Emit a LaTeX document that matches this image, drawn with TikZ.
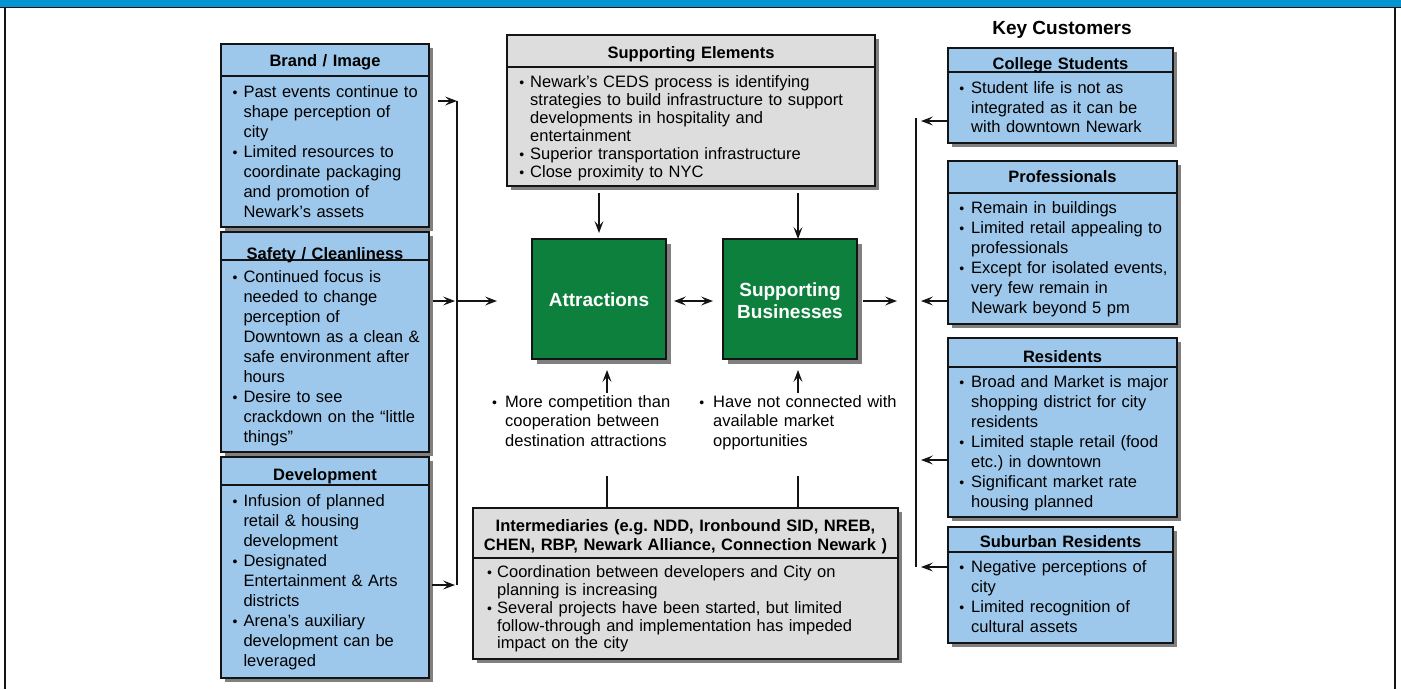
\documentclass[tikz,border=0pt]{standalone}
\usepackage{fontspec}
\setmainfont{Liberation Sans}
\usetikzlibrary{arrows.meta,calc}

\definecolor{barblue}{RGB}{0,148,208}
\definecolor{panelblue}{RGB}{158,200,235}
\definecolor{panelgray}{RGB}{221,221,221}
\definecolor{boxgreen}{RGB}{14,128,62}
\definecolor{dropshade}{RGB}{128,128,128}
\definecolor{inkline}{RGB}{20,20,20}

\frenchspacing
\setlength\parskip{0pt}
\newlength\bhang
% bullet items with hanging indent; \nl breaks a line inside an item
\newcommand\bulletglyph{{\fontsize{14}{14}\selectfont •}}
\newcommand\bstart{\hangindent=\bhang\hangafter=1\noindent\makebox[\bhang][l]{\bulletglyph}\ignorespaces}
\newcommand\bl{\par\bstart}
\newcommand\nl{\newline}

\tikzset{
  edge/.style={draw=inkline, line width=1.1pt},
  bluepanel/.style={edge, fill=panelblue, inner sep=0pt, outer sep=0pt},
  graypanel/.style={edge, fill=panelgray, inner sep=0pt, outer sep=0pt},
  greenpanel/.style={edge, fill=boxgreen, inner sep=0pt, outer sep=0pt},
  heading/.style={anchor=base, inner sep=0pt, text width=#1,
    execute at begin node=\centering, font=\fontsize{16.5}{18.7}\selectfont\bfseries},
  greentext/.style={anchor=base, inner sep=0pt, text width=#1, text=white,
    execute at begin node=\centering, font=\fontsize{19}{22.5}\selectfont\bfseries},
  body/.style n args={3}{anchor=base west, inner sep=0pt, text width=#1,
    font=\fontsize{16.5}{#2}\selectfont, execute at begin node={\setlength\bhang{#3}}},
  tip/.tip={Stealth[length=12pt,width=9pt,inset=5pt]},
  arr/.style={edge, -tip},
  dblarr/.style={edge, tip-tip},
}

% panel with drop shadow and title separator: name, left, top, right, bottom, separator y, style
\newcommand\panel[7]{%
  \fill[dropshade] (#2+4,#3+4) rectangle (#4+4,#5+4);
  \node[#7, anchor=north west, minimum width=#4-#2, minimum height=#5-#3] (#1) at (#2,#3) {};
  \draw[edge] (#2,#6) -- (#4,#6);
}
% plain block with drop shadow: name, left, top, right, bottom, style
\newcommand\block[6]{%
  \fill[dropshade] (#2+4.5,#3+4.5) rectangle (#4+4.5,#5+4.5);
  \node[#6, anchor=north west, minimum width=#4-#2, minimum height=#5-#3] (#1) at (#2,#3) {};
}

\begin{document}
\begin{tikzpicture}[x=1pt,y=-1pt]
\useasboundingbox (0,0) rectangle (1401,689);
\fill[white] (0,0) rectangle (1401,689);

% page frame
\fill[barblue] (0,0) rectangle (1401,7);
\draw[inkline, line width=1.4pt] (0,7.5) -- (1401,7.5);
\draw[inkline, line width=1.4pt] (5,7.5) -- (5,689);
\draw[inkline, line width=1.4pt] (1395,7.5) -- (1395,689);

% ---- left column: issues ----
\panel{brand}{221}{44}{429}{227}{76}{bluepanel}
\node[heading=208pt] (brandhd) at (325,66.6) {Brand / Image};
\node[body={300pt}{20}{10.8pt}] (brandtx) at (232.5,97.6) {\bstart Past events continue to\nl shape perception of\nl city\bl Limited resources to\nl coordinate packaging\nl and promotion of\nl Newark’s assets\par};

\panel{safety}{221}{232}{429}{452}{260}{bluepanel}
\node[heading=208pt] (safetyhd) at (325,259.5) {Safety / Cleanliness};
\node[body={300pt}{20}{10.8pt}] (safetytx) at (232.5,282) {\bstart Continued focus is\nl needed to change\nl perception of\nl Downtown as a clean \&\nl safe environment after\nl hours\bl Desire to see\nl crackdown on the “little\nl things”\par};

\panel{devel}{221}{457}{429}{678}{485}{bluepanel}
\node[heading=208pt] (develhd) at (325,480) {Development};
\node[body={300pt}{20}{10.8pt}] (develtx) at (232.5,506) {\bstart Infusion of planned\nl retail \& housing\nl development\bl Designated\nl Entertainment \& Arts\nl districts\bl Arena’s auxiliary\nl development can be\nl leveraged\par};

% ---- centre ----
\panel{supel}{507}{35}{875}{186}{67}{graypanel}
\node[heading=368pt] (supelhd) at (691,58.6) {Supporting Elements};
\node[body={400pt}{18}{10.8pt}] (supeltx) at (519.2,87) {\bstart Newark’s CEDS process is identifying\nl strategies to build infrastructure to support\nl developments in hospitality and\nl entertainment\bl Superior transportation infrastructure\bl Close proximity to NYC\par};

\block{attr}{532}{239}{666}{359}{greenpanel}
\block{sbus}{723}{239}{857}{359}{greenpanel}
\node[greentext=134pt] (attrtx) at (599,306.8) {Attractions};
\node[greentext=134pt] (sbustx) at (790,296) {Supporting\par Businesses};

\node[body={300pt}{19.2}{13pt}] (compa) at (492,407.6) {\bstart More competition than\nl cooperation between\nl destination attractions\par};
\node[body={300pt}{19.2}{13.8pt}] (compb) at (699.2,407.6) {\bstart Have not connected with\nl available market\nl opportunities\par};

\panel{inter}{473}{508}{898}{659}{558}{graypanel}
\node[heading=425pt] (interhd) at (685.5,531.6) {Intermediaries (e.g. NDD, Ironbound SID, NREB,\par CHEN, RBP, Newark Alliance, Connection Newark )};
\node[body={450pt}{17.8}{10pt}] (intertx) at (487,577.6) {\bstart Coordination between developers and City on\nl planning is increasing\bl Several projects have been started, but limited\nl follow-through and implementation has impeded\nl impact on the city\par};

% ---- right column: key customers ----
\node[anchor=base, inner sep=0pt, font=\fontsize{19}{22}\selectfont\bfseries] (keyhd) at (1062,34) {Key Customers};

\panel{college}{948}{48}{1173}{143}{72}{bluepanel}
\node[heading=225pt] (collegehd) at (1060.5,69.2) {College Students};
\node[body={300pt}{19.5}{11.8pt}] (collegetx) at (959.2,93.6) {\bstart Student life is not as\nl integrated as it can be\nl with downtown Newark\par};

\panel{prof}{948}{161}{1177}{324}{193}{bluepanel}
\node[heading=229pt] (profhd) at (1062.5,182.6) {Professionals};
\node[body={300pt}{20}{11.8pt}] (proftx) at (959.2,213.6) {\bstart Remain in buildings\bl Limited retail appealing to\nl professionals\bl Except for isolated events,\nl very few remain in\nl Newark beyond 5 pm\par};

\panel{resid}{948}{338}{1177}{517}{367}{bluepanel}
\node[heading=229pt] (residhd) at (1062.5,362) {Residents};
\node[body={300pt}{20}{11.8pt}] (residtx) at (959.2,387.6) {\bstart Broad and Market is major\nl shopping district for city\nl residents\bl Limited staple retail (food\nl etc.) in downtown\bl Significant market rate\nl housing planned\par};

\panel{suburb}{948}{527}{1173}{643}{552}{bluepanel}
\node[heading=225pt] (suburbhd) at (1060.5,547) {Suburban Residents};
\node[body={300pt}{19.8}{11.8pt}] (suburbtx) at (959.2,572.6) {\bstart Negative perceptions of\nl city\bl Limited recognition of\nl cultural assets\par};

% ---- connectors ----
\coordinate (lbustop) at (457,101);
\coordinate (lbusmid) at (457,301);
\coordinate (lbusbot) at (457,585);
\draw[edge] (lbustop) -- (lbusbot);
\draw[arr] ($(brand.east |- lbustop)+(9,0)$) -- (lbustop);
\draw[arr] ($(safety.east |- lbusmid)+(4,0)$) -- ($(lbusmid)+(-2,0)$);
\draw[arr] ($(devel.east |- lbusbot)+(3,0)$) -- ($(lbusbot)+(-2,0)$);
\draw[arr] (lbusmid) -- ($(attr.west |- lbusmid)+(-35,0)$);

\draw[arr] ($(supel.south -| attr.north)+(0,7)$) -- ($(attr.north)+(0,-6)$);
\draw[arr] ($(supel.south -| sbus.north)+(8,7)$) -- ($(sbus.north)+(8,0)$);

\draw[dblarr] ($(attr.east |- lbusmid)+(8,0)$) -- ($(sbus.west |- lbusmid)+(-10,0)$);
\draw[arr] ($(sbus.east |- lbusmid)+(6,0)$) -- ($(sbus.east |- lbusmid)+(40,0)$);

\draw[arr] ($(attr.south)+(8,34)$) -- ($(attr.south)+(8,11)$);
\draw[arr] ($(sbus.south)+(8,34)$) -- ($(sbus.south)+(8,11)$);
\draw[edge] ($(inter.north -| attr.south)+(8,-32)$) -- ($(inter.north -| attr.south)+(8,0)$);
\draw[edge] ($(inter.north -| sbus.south)+(8,-32)$) -- ($(inter.north -| sbus.south)+(8,0)$);

\coordinate (rbustop) at (916,118);
\coordinate (rbusbot) at (916,567);
\draw[edge] (rbustop) -- (rbusbot);
\foreach \n/\yy in {college/121, prof/301, resid/460, suburb/567}
  \draw[arr] (\n.west |- 0,\yy) -- ($(rbustop |- 0,\yy)+(5,0)$);
\end{tikzpicture}
\end{document}
